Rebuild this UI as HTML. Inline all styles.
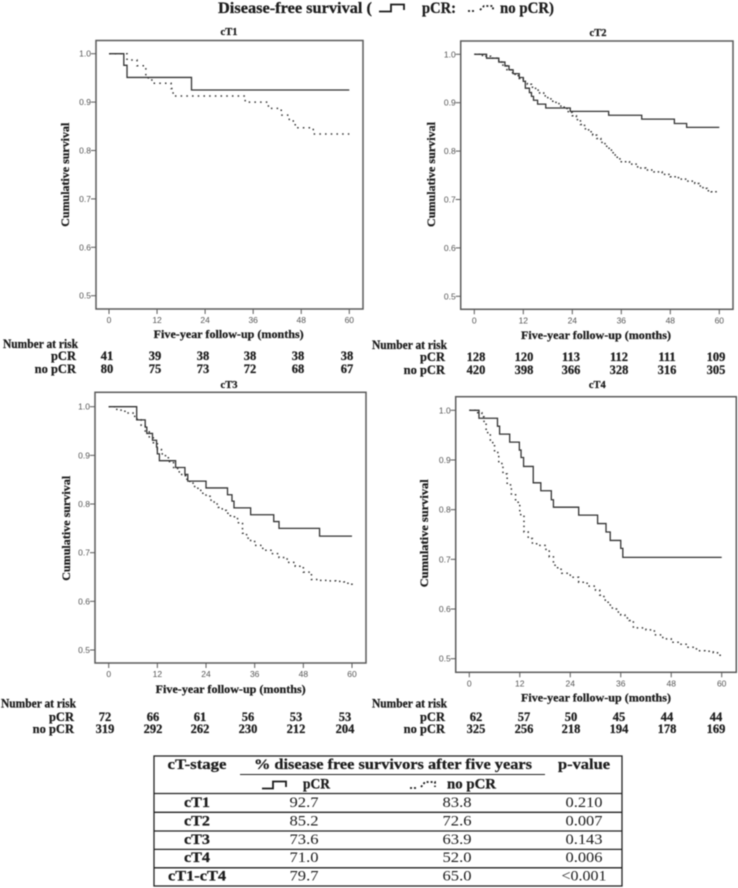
<!DOCTYPE html>
<html lang="en">
<head>
<meta charset="utf-8">
<title>Disease-free survival by cT-stage</title>
<style>
html,body{margin:0;padding:0;background:#fff;}
svg{display:block;position:absolute;left:0;top:0;filter:blur(0.4px);}
text{font-family:"Liberation Serif",serif;fill:#1c1c1c;}
.b{font-weight:bold;stroke:#1c1c1c;stroke-width:0.25px;}
.tick{font-family:"Liberation Sans",sans-serif;font-size:8.5px;fill:#555;}
</style>
</head>
<body>
<svg id="figure" xmlns="http://www.w3.org/2000/svg" width="738" height="888" viewBox="0 0 738 888">
  <g>
    <text class="b" x="218" y="13" font-size="16" textLength="154" lengthAdjust="spacingAndGlyphs">Disease-free survival (</text>
    <path d="M379,11.5 H391 V4.5 H404 V10" fill="none" stroke="#1c1c1c" stroke-width="1.8"/>
    <text class="b" x="422" y="13" font-size="16" textLength="34" lengthAdjust="spacingAndGlyphs">pCR:</text>
    <path d="M468,11 H476 M480,10 L484,6 H493 V11" fill="none" stroke="#1c1c1c" stroke-width="1.8" stroke-dasharray="2 2"/>
    <text class="b" x="500" y="13" font-size="16" textLength="54" lengthAdjust="spacingAndGlyphs">no pCR)</text>
  </g>
  <g id="panels"></g>

  <g text-anchor="middle" font-size="15">
    <rect x="154" y="756" width="468" height="130" fill="none" stroke="#222" stroke-width="1.3"/>
    <line x1="240" x2="545" y1="774.5" y2="774.5" stroke="#222" stroke-width="1.1"/>
    <line x1="154" x2="622" y1="793.5" y2="793.5" stroke="#222" stroke-width="1.3"/>
    <line x1="154" x2="622" y1="812.3" y2="812.3" stroke="#222" stroke-width="1.3"/>
    <line x1="154" x2="622" y1="831" y2="831" stroke="#222" stroke-width="1.3"/>
    <line x1="154" x2="622" y1="849.4" y2="849.4" stroke="#222" stroke-width="1.3"/>
    <line x1="154" x2="622" y1="867.8" y2="867.8" stroke="#222" stroke-width="1.3"/>

    <text class="b" x="197" y="769" textLength="59" lengthAdjust="spacingAndGlyphs">cT-stage</text>
    <text class="b" x="393" y="769" textLength="278" lengthAdjust="spacingAndGlyphs">% disease free survivors after five years</text>
    <text class="b" x="584" y="769" textLength="52" lengthAdjust="spacingAndGlyphs">p-value</text>

    <path d="M262,788.5 H273 V781.5 H286 V787" fill="none" stroke="#1c1c1c" stroke-width="1.8"/>
    <text class="b" x="316.500" y="788.5" textLength="27" lengthAdjust="spacingAndGlyphs">pCR</text>
    <path d="M410,788 H417 M421,787 L425,782 H435 V787" fill="none" stroke="#1c1c1c" stroke-width="1.8" stroke-dasharray="2 2"/>
    <text class="b" x="471.500" y="788.5" textLength="49" lengthAdjust="spacingAndGlyphs">no pCR</text>

    <text class="b" x="197" y="807" textLength="26" lengthAdjust="spacingAndGlyphs">cT1</text>
    <text x="304" y="807" textLength="29" lengthAdjust="spacingAndGlyphs">92.7</text>
    <text x="457" y="807" textLength="29" lengthAdjust="spacingAndGlyphs">83.8</text>
    <text x="584" y="807" textLength="37" lengthAdjust="spacingAndGlyphs">0.210</text>

    <text class="b" x="197" y="825.700" textLength="26" lengthAdjust="spacingAndGlyphs">cT2</text>
    <text x="304" y="825.700" textLength="29" lengthAdjust="spacingAndGlyphs">85.2</text>
    <text x="457" y="825.700" textLength="29" lengthAdjust="spacingAndGlyphs">72.6</text>
    <text x="584" y="825.700" textLength="37" lengthAdjust="spacingAndGlyphs">0.007</text>

    <text class="b" x="197" y="844" textLength="26" lengthAdjust="spacingAndGlyphs">cT3</text>
    <text x="304" y="844" textLength="29" lengthAdjust="spacingAndGlyphs">73.6</text>
    <text x="457" y="844" textLength="29" lengthAdjust="spacingAndGlyphs">63.9</text>
    <text x="584" y="844" textLength="37" lengthAdjust="spacingAndGlyphs">0.143</text>

    <text class="b" x="197" y="862" textLength="26" lengthAdjust="spacingAndGlyphs">cT4</text>
    <text x="304" y="862" textLength="29" lengthAdjust="spacingAndGlyphs">71.0</text>
    <text x="457" y="862" textLength="29" lengthAdjust="spacingAndGlyphs">52.0</text>
    <text x="584" y="862" textLength="37" lengthAdjust="spacingAndGlyphs">0.006</text>

    <text class="b" x="197" y="880.700" textLength="58" lengthAdjust="spacingAndGlyphs">cT1-cT4</text>
    <text x="304" y="880.700" textLength="29" lengthAdjust="spacingAndGlyphs">79.7</text>
    <text x="457" y="880.700" textLength="29" lengthAdjust="spacingAndGlyphs">65.0</text>
    <text x="584" y="880.700" textLength="45" lengthAdjust="spacingAndGlyphs">&lt;0.001</text>
  </g>
</svg>

<script>
// Shared axis ticks
const monthTicks = [0, 12, 24, 36, 48, 60];
const survivalTicks = [0.5, 0.6, 0.7, 0.8, 0.9, 1.0];

// cT1
const ct1PcrMonths = [0, 3.7, 4.5, 20.6, 60];
const ct1PcrSurvival = [1, 0.976, 0.951, 0.925, 0.925];
const ct1NoPcrMonths = [0, 4.5, 7, 9.2, 10.7, 15.5, 16, 34, 39.8, 43, 45, 46.5, 51, 60];
const ct1NoPcrSurvival = [1, 0.987, 0.975, 0.95, 0.939, 0.928, 0.9125, 0.9, 0.887, 0.873, 0.861, 0.847, 0.834, 0.834];
const ct1RiskPcr = [41, 39, 38, 38, 38, 38];
const ct1RiskNoPcr = [80, 75, 73, 72, 68, 67];

// cT2
const ct2PcrMonths = [0, 3, 6, 7.5, 8.5, 9.5, 11, 12, 12.5, 13.5, 14, 14.5, 15.5, 17.5, 23.5, 32.9, 41, 49, 52, 60];
const ct2PcrSurvival = [1, 0.992, 0.984, 0.976, 0.968, 0.96, 0.952, 0.944, 0.93, 0.921, 0.913, 0.905, 0.897, 0.889, 0.882, 0.874, 0.866, 0.857, 0.849, 0.849];
const ct2NoPcrMonths = [0, 2, 4, 6, 7, 8, 9, 10, 11, 12, 13, 14, 15, 16, 17, 18, 19, 20, 21, 22, 23, 24, 25, 26, 27, 28, 29, 30, 31, 32, 33, 34, 35, 36, 38, 40, 42, 44, 46, 48, 50, 52, 54, 55, 56, 57, 58, 60];
const ct2NoPcrSurvival = [1, 0.996, 0.992, 0.984, 0.976, 0.968, 0.962, 0.956, 0.95, 0.944, 0.938, 0.932, 0.926, 0.92, 0.914, 0.908, 0.903, 0.898, 0.893, 0.888, 0.88, 0.873, 0.865, 0.855, 0.846, 0.84, 0.833, 0.826, 0.818, 0.81, 0.802, 0.792, 0.784, 0.778, 0.773, 0.765, 0.761, 0.757, 0.752, 0.747, 0.742, 0.738, 0.733, 0.728, 0.723, 0.718, 0.716, 0.716];
const ct2RiskPcr = [128, 120, 113, 112, 111, 109];
const ct2RiskNoPcr = [420, 398, 366, 328, 316, 305];

// cT3
const ct3PcrMonths = [0, 6.9, 9, 9.4, 10.8, 11.8, 12, 12.5, 16.5, 18.8, 19.5, 24, 29.3, 30.4, 30.9, 35, 40.7, 42, 52, 60];
const ct3PcrSurvival = [1, 0.973, 0.958, 0.945, 0.931, 0.917, 0.903, 0.889, 0.875, 0.861, 0.847, 0.833, 0.819, 0.806, 0.792, 0.778, 0.764, 0.75, 0.734, 0.734];
const ct3NoPcrMonths = [0, 2, 4, 6, 7, 8, 9, 10, 11, 12, 13, 14, 15, 16, 17, 18, 19, 20, 21, 22, 23, 24, 25, 26, 27, 28, 29, 30, 31, 32, 33, 34, 35, 36, 38, 40, 42, 44, 46, 48, 50, 52, 54, 56, 58, 59, 60];
const ct3NoPcrSurvival = [1, 0.993, 0.987, 0.98, 0.973, 0.962, 0.95, 0.938, 0.926, 0.912, 0.903, 0.895, 0.885, 0.875, 0.866, 0.858, 0.851, 0.843, 0.836, 0.828, 0.822, 0.816, 0.808, 0.8, 0.793, 0.787, 0.781, 0.776, 0.77, 0.76, 0.74, 0.73, 0.723, 0.715, 0.705, 0.698, 0.69, 0.68, 0.672, 0.66, 0.645, 0.643, 0.642, 0.641, 0.64, 0.635, 0.631];
const ct3RiskPcr = [72, 66, 61, 56, 53, 53];
const ct3RiskNoPcr = [319, 292, 262, 230, 212, 204];

// cT4
const ct4PcrMonths = [0, 2.3, 6.7, 7.2, 9.6, 11.9, 12.3, 12.9, 15.2, 17, 19.5, 20, 26, 30.5, 32.5, 33.5, 36, 36.5, 60];
const ct4PcrSurvival = [1, 0.984, 0.968, 0.952, 0.936, 0.92, 0.905, 0.887, 0.854, 0.838, 0.82, 0.805, 0.789, 0.772, 0.755, 0.738, 0.722, 0.704, 0.704];
const ct4NoPcrMonths = [0, 2, 3, 3.5, 4, 5, 6, 7, 8, 9, 10, 11, 12, 13, 14, 15, 16, 18, 19, 20, 21, 22, 24, 26, 28, 30, 31, 32, 33, 34, 35, 36, 37, 38, 39, 40, 42, 44, 46, 48, 50, 52, 54, 56, 58, 59, 60];
const ct4NoPcrSurvival = [1, 0.995, 0.987, 0.975, 0.955, 0.935, 0.915, 0.893, 0.872, 0.85, 0.83, 0.815, 0.79, 0.755, 0.742, 0.733, 0.728, 0.72, 0.705, 0.688, 0.68, 0.672, 0.664, 0.654, 0.646, 0.638, 0.628, 0.618, 0.608, 0.6, 0.594, 0.588, 0.582, 0.577, 0.562, 0.562, 0.558, 0.548, 0.54, 0.533, 0.529, 0.523, 0.516, 0.515, 0.512, 0.507, 0.502];
const ct4RiskPcr = [62, 57, 50, 45, 44, 44];
const ct4RiskNoPcr = [325, 256, 218, 194, 178, 169];

const SVG_NS = 'http://www.w3.org/2000/svg';
const root = document.getElementById('panels');

function makeEl(tag, parent, attrs, txt) {
  const el = document.createElementNS(SVG_NS, tag);
  for (const k in attrs) el.setAttribute(k, attrs[k]);
  if (txt !== undefined) el.textContent = txt;
  parent.appendChild(el);
  return el;
}

function stepPath(months, survival, xAxis, yAxis) {
  let d = 'M' + xAxis(months[0]).toFixed(2) + ',' + yAxis(survival[0]).toFixed(2);
  for (let i = 1; i < months.length; i++) {
    d += 'H' + xAxis(months[i]).toFixed(2);
    d += 'V' + yAxis(survival[i]).toFixed(2);
  }
  return d;
}

function drawPanel(p) {
  const xAxis = m => p.x0 + (p.x60 - p.x0) * m / 60;
  const yAxis = s => p.y1 + (p.y05 - p.y1) * (1 - s) / 0.5;
  const g = makeEl('g', root, {});
  
  

  const title = makeEl('text', g, {class: 'b', x: p.titleX, y: p.titleY, 'text-anchor': 'middle', 'font-size': 10.5}, p.name);
  
  

  const frame = makeEl('rect', g, {x: p.left, y: p.top, width: p.right - p.left, height: p.bottom - p.top, fill: '#fff', stroke: '#5a5a5a', 'stroke-width': 1.5});
  
  

  survivalTicks.forEach(t => {
    const y = yAxis(t);
    const mark = makeEl('line', g, {x1: p.left - 5, x2: p.left, y1: y, y2: y, stroke: '#5a5a5a', 'stroke-width': 1});
    
    
    const lab = makeEl('text', g, {class: 'tick', x: p.left - 5, y: y + 3, 'text-anchor': 'end'}, t.toFixed(1));
    
    
  });

  monthTicks.forEach(t => {
    const x = xAxis(t);
    const mark = makeEl('line', g, {x1: x, x2: x, y1: p.bottom, y2: p.bottom + 5, stroke: '#5a5a5a', 'stroke-width': 1});
    
    
    const lab = makeEl('text', g, {class: 'tick', x: x, y: p.bottom + 14, 'text-anchor': 'middle'}, String(t));
    
    
  });

  const xt = makeEl('text', g, {class: 'b', x: p.xTitleX, y: p.xTitleY, 'text-anchor': 'middle', 'font-size': 11.5, textLength: 150, lengthAdjust: 'spacingAndGlyphs'}, 'Five-year follow-up (months)');
  
  

  const yt = makeEl('text', g, {class: 'b', transform: 'translate(' + p.yTitleX + ',' + p.yTitleY + ') rotate(-90)', 'text-anchor': 'middle', 'font-size': 11.5, textLength: p.yTitleLen, lengthAdjust: 'spacingAndGlyphs'}, 'Cumulative survival');
  
  

  const dotted = makeEl('path', g, {d: stepPath(p.noPcrMonths, p.noPcrSurvival, xAxis, yAxis), fill: 'none', stroke: '#333', 'stroke-width': 1.5, 'stroke-dasharray': p.dash});
  
  

  const solid = makeEl('path', g, {d: stepPath(p.pcrMonths, p.pcrSurvival, xAxis, yAxis), fill: 'none', stroke: '#333', 'stroke-width': 1.3});
  
  

  const riskHead = makeEl('text', g, {class: 'b', x: p.riskLeft, y: p.riskY0, 'font-size': 12.5, textLength: 75, lengthAdjust: 'spacingAndGlyphs'}, 'Number at risk');
  
  

  const rowA = makeEl('text', g, {class: 'b', x: p.riskRight, y: p.riskY1, 'text-anchor': 'end', 'font-size': 12.5}, 'pCR');
  
  

  const rowB = makeEl('text', g, {class: 'b', x: p.riskRight, y: p.riskY2, 'text-anchor': 'end', 'font-size': 12.5}, 'no pCR');
  
  

  p.riskCenters.forEach((cx, i) => {
    const a = makeEl('text', g, {class: 'b', x: cx, y: p.riskY1, 'text-anchor': 'middle', 'font-size': 12.5}, String(p.riskPcr[i]));
    
    
    const b = makeEl('text', g, {class: 'b', x: cx, y: p.riskY2, 'text-anchor': 'middle', 'font-size': 12.5}, String(p.riskNoPcr[i]));
    
    
  });
}

drawPanel({name: 'cT1', left: 96, right: 363, top: 40.5, bottom: 309, x0: 109, x60: 349.3, y1: 53.7, y05: 295.7,
  titleX: 229, titleY: 35, xTitleX: 228.7, xTitleY: 338, yTitleX: 69, yTitleY: 174.7, yTitleLen: 104, dash: '1.5 4.2',
  pcrMonths: ct1PcrMonths, pcrSurvival: ct1PcrSurvival, noPcrMonths: ct1NoPcrMonths, noPcrSurvival: ct1NoPcrSurvival,
  riskPcr: ct1RiskPcr, riskNoPcr: ct1RiskNoPcr, riskLeft: 3, riskRight: 76, riskY0: 348, riskY1: 360, riskY2: 373,
  riskCenters: [107, 155, 203, 250, 298, 347]});

drawPanel({name: 'cT2', left: 460.7, right: 733, top: 41, bottom: 309.3, x0: 474.3, x60: 719.3, y1: 54.3, y05: 296.3,
  titleX: 598, titleY: 36, xTitleX: 596, xTitleY: 339, yTitleX: 435, yTitleY: 174.5, yTitleLen: 105, dash: '1.5 2.8',
  pcrMonths: ct2PcrMonths, pcrSurvival: ct2PcrSurvival, noPcrMonths: ct2NoPcrMonths, noPcrSurvival: ct2NoPcrSurvival,
  riskPcr: ct2RiskPcr, riskNoPcr: ct2RiskNoPcr, riskLeft: 372, riskRight: 445, riskY0: 349, riskY1: 361, riskY2: 374,
  riskCenters: [476, 524, 571, 619, 667, 716]});

drawPanel({name: 'cT3', left: 95, right: 366, top: 392.3, bottom: 663, x0: 108.7, x60: 352, y1: 406.7, y05: 650,
  titleX: 229, titleY: 388, xTitleX: 230.7, xTitleY: 693, yTitleX: 70, yTitleY: 528.3, yTitleLen: 105, dash: '1.5 3.5',
  pcrMonths: ct3PcrMonths, pcrSurvival: ct3PcrSurvival, noPcrMonths: ct3NoPcrMonths, noPcrSurvival: ct3NoPcrSurvival,
  riskPcr: ct3RiskPcr, riskNoPcr: ct3RiskNoPcr, riskLeft: 1, riskRight: 74, riskY0: 707.7, riskY1: 721, riskY2: 733,
  riskCenters: [105, 153, 200, 248, 296, 345]});

drawPanel({name: 'cT4', left: 455.7, right: 736.3, top: 396.7, bottom: 672.3, x0: 469.3, x60: 721.7, y1: 410.3, y05: 658.7,
  titleX: 597.3, titleY: 388, xTitleX: 596, xTitleY: 701.7, yTitleX: 428, yTitleY: 533.3, yTitleLen: 108, dash: '1.5 3.5',
  pcrMonths: ct4PcrMonths, pcrSurvival: ct4PcrSurvival, noPcrMonths: ct4NoPcrMonths, noPcrSurvival: ct4NoPcrSurvival,
  riskPcr: ct4RiskPcr, riskNoPcr: ct4RiskNoPcr, riskLeft: 372, riskRight: 445, riskY0: 707.7, riskY1: 721, riskY2: 733,
  riskCenters: [476, 524, 571, 619, 667, 716]});
</script>
</body>
</html>
